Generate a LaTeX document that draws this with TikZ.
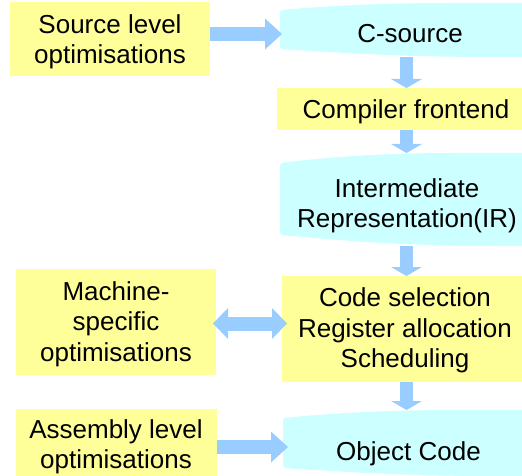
\documentclass[tikz,border=0pt]{standalone}
\usepackage{fontspec}
\setmainfont{Liberation Sans}
\usetikzlibrary{arrows.meta,backgrounds}

\definecolor{boxyellow}{HTML}{FFFF99}
\definecolor{tapecyan}{HTML}{CCFFFF}
\definecolor{flowblue}{HTML}{99CCFF}

% curved ribbon ("punched tape") filling the area of a named node;
% #2 = drop of the top-left corner, #3 = rise of the bottom-left corner
\newcommand\drawtape[3]{%
  \fill[tapecyan, rounded corners=3pt]
    ([yshift=-#2]#1.north west)
    .. controls ([xshift=45pt,yshift=-0.45*#2]#1.north west) and ([xshift=100pt]#1.north west) .. ([xshift=175pt]#1.north west)
    -- (#1.north east) -- (#1.south east)
    -- ([xshift=-40pt]#1.south east)
    .. controls ([xshift=120pt]#1.south west) and ([xshift=50pt,yshift=0.6*#3]#1.south west) .. ([yshift=#3]#1.south west)
    -- cycle;}

\begin{document}
\begin{tikzpicture}[x=1pt,y=-1pt,
  panel/.style={fill=boxyellow, draw=none, inner sep=0pt, outer sep=0pt},
  tapearea/.style={draw=none, inner sep=0pt, outer sep=0pt},
  caption/.style={font=\fontsize{26}{30.5}\selectfont, align=center, inner sep=0pt, outer sep=0pt},
  flowdown/.style={draw=flowblue, line width=13pt,
    -{Triangle[width=31pt,length=9pt,line width=0pt]}},
  flowright/.style={draw=flowblue, line width=14pt,
    -{Triangle[width=31pt,length=17pt,line width=0pt]}},
  flowboth/.style={draw=flowblue, line width=14pt,
    {Triangle[width=31pt,length=15pt,line width=0pt]}-{Triangle[width=31pt,length=15pt,line width=0pt]}}]

\useasboundingbox (0,0) rectangle (522,476);

% yellow optimisation / processing boxes
\node[panel, minimum width=200pt, minimum height=74pt]  (src) at (110,39) {};
\node[panel, minimum width=259pt, minimum height=42pt]  (cfe) at (406.5,109) {};
\node[panel, minimum width=249pt, minimum height=106pt] (cs)  at (406.5,329) {};
\node[panel, minimum width=200pt, minimum height=106pt] (ms)  at (116,322) {};
\node[panel, minimum width=201pt, minimum height=71pt]  (asm) at (116.5,444.5) {};

% areas of the ribbon-shaped data stages
\node[tapearea, minimum width=253pt, minimum height=54pt] (csrc) at (406.5,30) {};
\node[tapearea, minimum width=253pt, minimum height=93pt] (ir)   at (406.5,199.5) {};
\node[tapearea, minimum width=247pt, minimum height=66pt] (obj)  at (406.5,443) {};

\begin{pgfonlayer}{background}
  \drawtape{csrc}{7pt}{8pt}
  \drawtape{ir}{10pt}{11pt}
  \drawtape{obj}{8pt}{8pt}
\end{pgfonlayer}

% texts
\node[caption] (src-t)  at (110,42)    {Source level\\optimisations};
\node[caption] (csrc-t) at (410,34)    {C-source};
\node[caption] (cfe-t)  at (406,111.6) {Compiler frontend};
\node[caption] (ir-t)   at (407,205.7) {Intermediate\\Representation(IR)};
\node[caption] (cs-t)   at (405,330.5) {Code selection\\Register allocation\\Scheduling};
\node[caption] (ms-t)   at (116,323.9) {Machine-\\specific\\optimisations};
\node[caption] (asm-t)  at (116,447)   {Assembly level\\optimisations};
\node[caption] (obj-t)  at (408.5,453.3) {Object Code};

% flow arrows
\draw[flowdown] (csrc.south) -- (cfe.north);
\draw[flowdown] (cfe.south) -- (ir.north);
\draw[flowdown] (ir.south) -- (cs.north);
\draw[flowdown] (cs.south) -- (obj.north);

\draw[flowright, shorten >=-2pt] ([yshift=5pt]src.east) -- ([yshift=5pt]src.east -| csrc.west);
\draw[flowboth, shorten <=-3pt, shorten >=-5pt] ([yshift=-1.5pt]ms.east) -- ([yshift=-1.5pt]ms.east -| cs.west);
\draw[flowright, shorten >=-5pt] ([yshift=-2.5pt]asm.east) -- ([yshift=-2.5pt]asm.east -| obj.west);
\end{tikzpicture}
\end{document}
